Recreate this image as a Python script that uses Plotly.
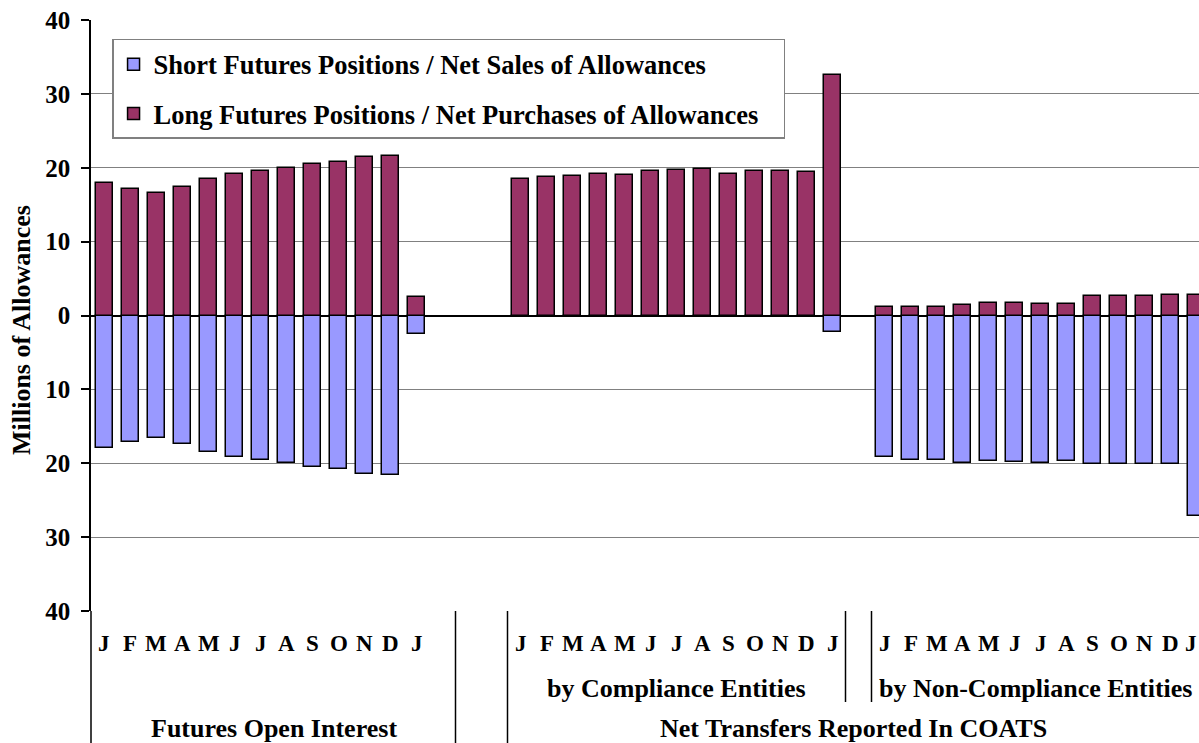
import plotly.graph_objects as go

# ---- data ----
months = ["J", "F", "M", "A", "M", "J", "J", "A", "S", "O", "N", "D", "J"]

futures_long = [17.9, 17.1, 16.6, 17.4, 18.5, 19.2, 19.6, 19.9, 20.5, 20.8, 21.4, 21.6, 2.45]
futures_short = [-17.9, -17.1, -16.6, -17.4, -18.5, -19.2, -19.6, -19.9, -20.5, -20.8, -21.4, -21.6, -2.45]

compliance_long = [18.5, 18.8, 18.9, 19.2, 19.0, 19.5, 19.7, 19.8, 19.2, 19.5, 19.5, 19.4, 32.6]
compliance_short = [-0.15, -0.15, -0.15, -0.15, -0.15, -0.15, -0.15, -0.15, -0.15, -0.15, -0.15, -0.15, -2.2]

noncompliance_long = [1.2, 1.1, 1.2, 1.4, 1.7, 1.7, 1.5, 1.6, 2.6, 2.7, 2.7, 2.75, 2.75]
noncompliance_short = [-19.2, -19.6, -19.6, -19.9, -19.7, -19.8, -19.9, -19.7, -20.1, -20.1, -20.1, -20.1, -27.1]

group_labels = ["by Compliance Entities", "by Non-Compliance Entities"]
section_labels = ["Futures Open Interest", "Net Transfers Reported In COATS"]
y_ticks = [-40, -30, -20, -10, 0, 10, 20, 30, 40]

# ---- layout helpers ----
group_start = [0, 16, 30]
xs = [g + i for g in group_start for i in range(len(months))]
long_all = futures_long + compliance_long + noncompliance_long
short_all = futures_short + compliance_short + noncompliance_short

X_RANGE = [-0.519, 42.096]
FONT = "Liberation Serif"
LONG_C = "#993366"
SHORT_C = "#9999FF"
PAD = "\u00a0\u00a0\u00a0"


def bfont(size):
    return dict(family=FONT, size=size, color="black", weight="bold")


fig = go.Figure()
fig.add_trace(go.Bar(
    x=xs, y=short_all, name="<b>Short Futures Positions / Net Sales of Allowances</b>" + PAD,
    marker=dict(color=SHORT_C, line=dict(color="black", width=1.5)),
    width=0.67, legendgroup="a"))
fig.add_trace(go.Bar(
    x=xs, y=long_all, name="<b>Long Futures Positions / Net Purchases of Allowances</b>" + PAD,
    marker=dict(color=LONG_C, line=dict(color="black", width=1.5)),
    width=0.67, legendgroup="b"))

annotations = []
# month letters
for x, m in zip(xs, months * 3):
    ax, anchor = x, "center"
    if x > X_RANGE[1] - 0.3:  # keep the last letter inside the visible area
        ax, anchor = X_RANGE[1], "right"
    annotations.append(dict(x=ax, y=-0.0558, xref="x", yref="paper", text="<b>%s</b>" % m,
                            showarrow=False, xanchor=anchor, yanchor="middle",
                            font=bfont(23)))
# second-level labels
for xc, lab in zip([22, 35.8], group_labels):
    annotations.append(dict(x=xc, y=-0.1303, xref="x", yref="paper", text="<b>%s</b>" % lab,
                            showarrow=False, xanchor="center", yanchor="middle",
                            font=bfont(26)))
# top-level labels
for xc, lab in zip([6.5, 28.8], section_labels):
    annotations.append(dict(x=xc, y=-0.199, xref="x", yref="paper", text="<b>%s</b>" % lab,
                            showarrow=False, xanchor="center", yanchor="middle",
                            font=bfont(26), borderpad=0))
# y axis title
annotations.append(dict(x=-0.0625, y=0.475, xref="paper", yref="paper",
                        text="<b>Millions of Allowances</b>", textangle=-90,
                        showarrow=False, xanchor="center", yanchor="middle",
                        font=bfont(26)))

shapes = []
line = dict(color="black", width=1.5)
shapes.append(dict(type="line", xref="paper", yref="paper", x0=0, x1=0, y0=0, y1=-0.3, line=line))
for xv in (13.5, 15.5):
    shapes.append(dict(type="line", xref="x", yref="paper", x0=xv, x1=xv, y0=0, y1=-0.3, line=line))
for xv in (28.5, 29.5):
    shapes.append(dict(type="line", xref="x", yref="paper", x0=xv, x1=xv, y0=0, y1=-0.154, line=line))

fig.update_layout(
    width=1199, height=743,
    margin=dict(l=91, r=0, t=20, b=132, autoexpand=False),
    paper_bgcolor="white", plot_bgcolor="white",
    barmode="relative",
    bargap=0,
    font=dict(family=FONT, color="black"),
    showlegend=True,
    legend=dict(x=0.019, y=0.968, xanchor="left", yanchor="top",
                bgcolor="white", bordercolor="#808080", borderwidth=1.5,
                font=bfont(26.5),
                traceorder="grouped", tracegroupgap=12,
                itemclick=False),
    annotations=annotations,
    shapes=shapes,
)
fig.update_xaxes(range=X_RANGE, showgrid=False, zeroline=False,
                 showticklabels=False, ticks="", showline=False, fixedrange=True,
                 automargin=False)
fig.update_yaxes(range=[-40, 40], tickvals=y_ticks, ticktext=["<b>%d</b>" % abs(v) for v in y_ticks],
                 tickfont=bfont(25),
                 showgrid=True, gridcolor="#808080", gridwidth=1,
                 zeroline=True, zerolinecolor="black", zerolinewidth=1.5,
                 showline=True, linecolor="black", linewidth=1.5,
                 ticks="outside", ticklen=8, tickcolor="black", tickwidth=1.5,
                 ticklabelstandoff=6, fixedrange=True, automargin=False)

fig.write_html("out.html", config={"displayModeBar": False},
               post_script="document.body.style.margin='0';document.body.style.padding='0';document.body.style.overflow='hidden';")
